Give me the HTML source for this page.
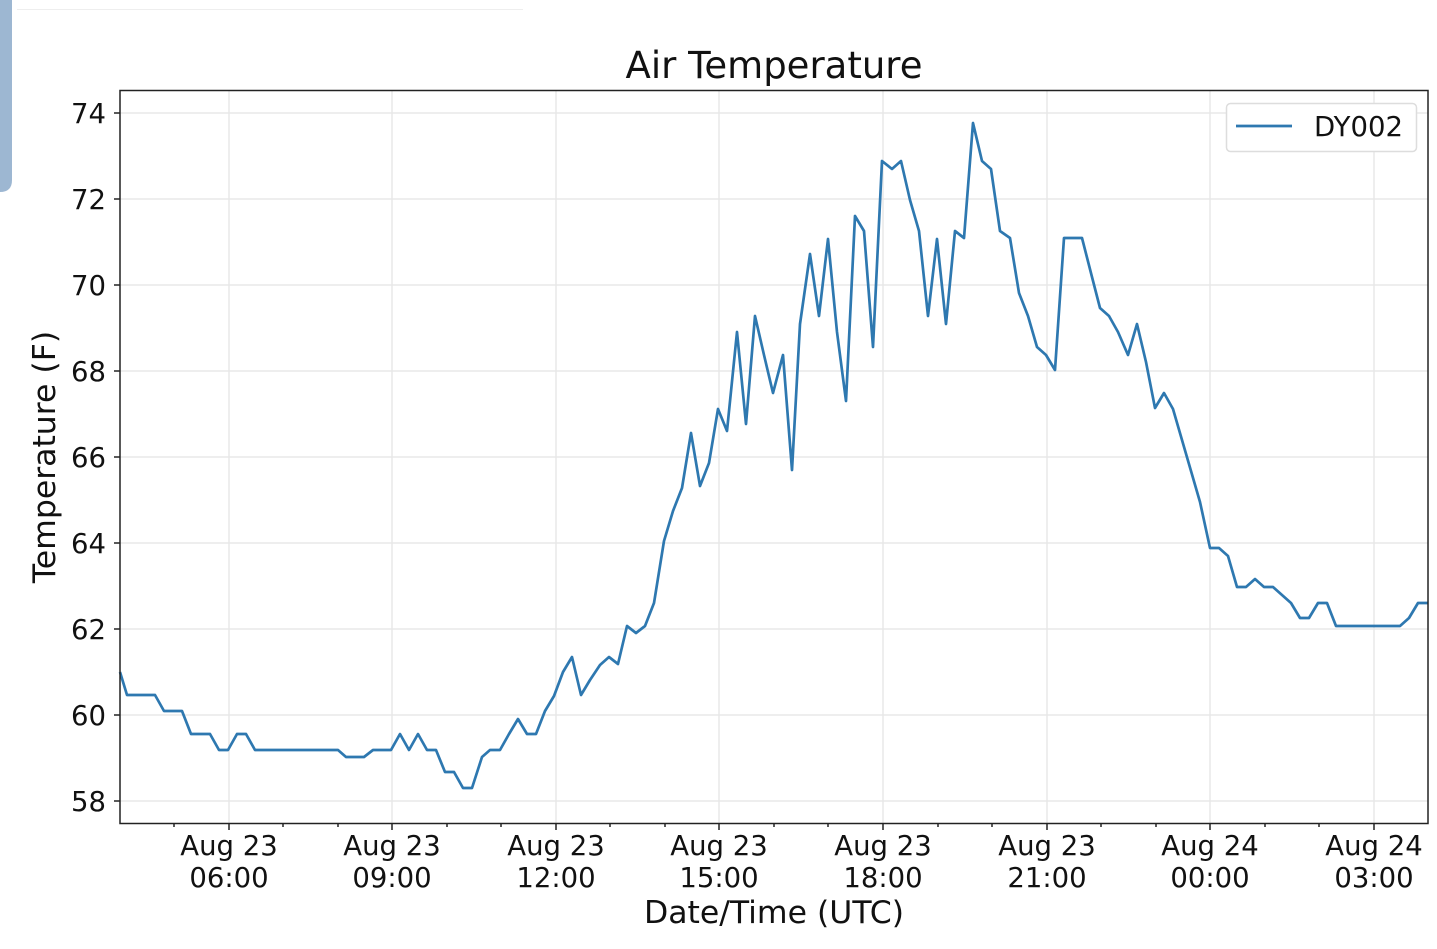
<!DOCTYPE html>
<html><head><meta charset="utf-8"><style>
body{margin:0;background:#fff;}
svg{display:block;font-family:"DejaVu Sans","Liberation Sans",sans-serif;}
</style></head><body>
<svg width="1437" height="949" viewBox="0 0 1437 949" xmlns="http://www.w3.org/2000/svg">
<path d="M0 0H12V180Q12 192 0 192Z" fill="#9db7d2"/>
<line x1="17" y1="9.5" x2="523" y2="9.5" stroke="#eee" stroke-width="1"/>
<g stroke="#e8e8e8" stroke-width="1.5">
<line x1="229" y1="91" x2="229" y2="823"/><line x1="392" y1="91" x2="392" y2="823"/><line x1="556" y1="91" x2="556" y2="823"/><line x1="719" y1="91" x2="719" y2="823"/><line x1="883" y1="91" x2="883" y2="823"/><line x1="1047" y1="91" x2="1047" y2="823"/><line x1="1210" y1="91" x2="1210" y2="823"/><line x1="1374" y1="91" x2="1374" y2="823"/>
<line x1="120" y1="113" x2="1428" y2="113"/><line x1="120" y1="199" x2="1428" y2="199"/><line x1="120" y1="285" x2="1428" y2="285"/><line x1="120" y1="371" x2="1428" y2="371"/><line x1="120" y1="457" x2="1428" y2="457"/><line x1="120" y1="543" x2="1428" y2="543"/><line x1="120" y1="629" x2="1428" y2="629"/><line x1="120" y1="715" x2="1428" y2="715"/><line x1="120" y1="801" x2="1428" y2="801"/>
</g>
<polyline fill="none" stroke="#2e78b0" stroke-width="2.7" stroke-linejoin="round" points="120,672 127,695 155,695 164,711 182,711 191,734 210,734 219,750 228,750 237,734 246,734 255,750 338,750 346,757 364,757 373,750 391,750 400,734 409,750 418,734 427,750 436,750 445,772 454,772 463,788 472,788 482,757 490,750 500,750 509,734 518,719 527,734 536,734 545,711 554,696 563,672 572,657 581,695 590,680 600,665 609,657 618,664 627,626 636,633 645,626 654,603 664,541 673,511 682,488 691,433 700,486 709,463 718,409 727,431 737,332 746,424 755,316 764,355 773,393 783,355 792,470 800,324 810,254 819,316 828,239 837,332 846,401 855,216 864,231 873,347 882,161 892,169 901,161 910,200 919,231 928,316 937,239 946,324 955,231 964,238 973,123 982,161 991,169 1000,231 1010,238 1019,293 1028,316 1037,347 1046,355 1055,370 1064,238 1082,238 1092,277 1100,308 1109,316 1118,332 1128,355 1137,324 1146,362 1155,408 1164,393 1173,409 1182,440 1191,471 1200,502 1210,548 1219,548 1228,556 1237,587 1246,587 1255,579 1264,587 1273,587 1282,595 1291,603 1300,618 1309,618 1318,603 1327,603 1336,626 1400,626 1409,618 1418,603 1428,603"/>
<rect x="120" y="90.5" width="1308" height="733" fill="none" stroke="#222" stroke-width="1.5"/>
<g stroke="#222" stroke-width="1.5">
<line x1="114" y1="113" x2="120" y2="113"/><line x1="114" y1="199" x2="120" y2="199"/><line x1="114" y1="285" x2="120" y2="285"/><line x1="114" y1="371" x2="120" y2="371"/><line x1="114" y1="457" x2="120" y2="457"/><line x1="114" y1="543" x2="120" y2="543"/><line x1="114" y1="629" x2="120" y2="629"/><line x1="114" y1="715" x2="120" y2="715"/><line x1="114" y1="801" x2="120" y2="801"/>
<line x1="229" y1="823" x2="229" y2="830"/><line x1="392" y1="823" x2="392" y2="830"/><line x1="556" y1="823" x2="556" y2="830"/><line x1="719" y1="823" x2="719" y2="830"/><line x1="883" y1="823" x2="883" y2="830"/><line x1="1047" y1="823" x2="1047" y2="830"/><line x1="1210" y1="823" x2="1210" y2="830"/><line x1="1374" y1="823" x2="1374" y2="830"/>
<line x1="174" y1="823" x2="174" y2="827"/><line x1="283" y1="823" x2="283" y2="827"/><line x1="338" y1="823" x2="338" y2="827"/><line x1="447" y1="823" x2="447" y2="827"/><line x1="501" y1="823" x2="501" y2="827"/><line x1="610" y1="823" x2="610" y2="827"/><line x1="665" y1="823" x2="665" y2="827"/><line x1="774" y1="823" x2="774" y2="827"/><line x1="828" y1="823" x2="828" y2="827"/><line x1="938" y1="823" x2="938" y2="827"/><line x1="992" y1="823" x2="992" y2="827"/><line x1="1101" y1="823" x2="1101" y2="827"/><line x1="1156" y1="823" x2="1156" y2="827"/><line x1="1265" y1="823" x2="1265" y2="827"/><line x1="1319" y1="823" x2="1319" y2="827"/>
</g>
<g font-size="27.5" fill="#111" text-anchor="end">
<text x="106" y="123">74</text><text x="106" y="209">72</text><text x="106" y="295">70</text><text x="106" y="381">68</text><text x="106" y="467">66</text><text x="106" y="553">64</text><text x="106" y="639">62</text><text x="106" y="725">60</text><text x="106" y="811">58</text>
</g>
<g font-size="27.5" fill="#111" text-anchor="middle">
<text x="229" y="855">Aug 23</text><text x="229" y="887">06:00</text>
<text x="392" y="855">Aug 23</text><text x="392" y="887">09:00</text>
<text x="556" y="855">Aug 23</text><text x="556" y="887">12:00</text>
<text x="719" y="855">Aug 23</text><text x="719" y="887">15:00</text>
<text x="883" y="855">Aug 23</text><text x="883" y="887">18:00</text>
<text x="1047" y="855">Aug 23</text><text x="1047" y="887">21:00</text>
<text x="1210" y="855">Aug 24</text><text x="1210" y="887">00:00</text>
<text x="1374" y="855">Aug 24</text><text x="1374" y="887">03:00</text>
<text x="774" y="78" font-size="37">Air Temperature</text>
<text x="774" y="923" font-size="31.5">Date/Time (UTC)</text>
<text transform="translate(55,457) rotate(-90)" font-size="31.5">Temperature (F)</text>
</g>
<rect x="1226.5" y="103.5" width="190" height="48" rx="4" fill="#fff" stroke="#ddd" stroke-width="1.5"/>
<line x1="1236" y1="126" x2="1292" y2="126" stroke="#2e78b0" stroke-width="2.7"/>
<text x="1314" y="136" font-size="27.5" fill="#111">DY002</text>
</svg>
</body></html>
